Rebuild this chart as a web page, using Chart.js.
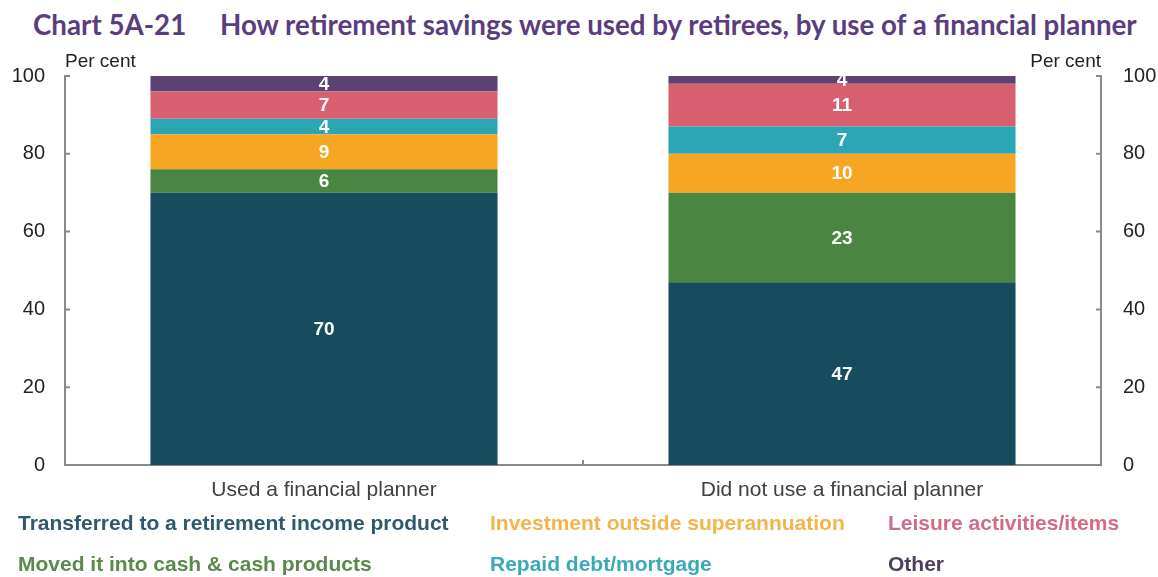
<!DOCTYPE html>
<html>
<head>
<meta charset="utf-8">
<script src="https://cdn.jsdelivr.net/npm/chart.js@4.4.0/dist/chart.umd.min.js"></script>
<style>
  body { margin: 0; background: #fff; width: 1158px; height: 577px; overflow: hidden; position: relative;
         font-family: "Liberation Sans", Arial, sans-serif; }
  .title { position: absolute; top: 8px; font-family: Lato, "Open Sans", sans-serif; font-weight: bold;
           color: #5a3d7d; font-size: 25px; white-space: nowrap; }
  #wrap { position: absolute; left: 0; top: 0; width: 1158px; height: 577px; }
  .leg { position: absolute; font-weight: bold; font-size: 21px; white-space: nowrap; }
</style>
</head>
<body>
<div class="title" id="t1" style="left:33px">Chart 5A-21</div>
<div class="title" id="t2" style="left:220px">How retirement savings were used by retirees, by use of a financial planner</div>
<div id="wrap"><canvas id="chart" width="1158" height="577"></canvas></div>
<div id="legend"></div>
<script>
const categories = ['Used a financial planner', 'Did not use a financial planner'];

const retirementProduct = [70, 47];
const cashProducts      = [6, 23];
const investmentOutside = [9, 10];
const repaidDebt        = [4, 7];
const leisureItems      = [7, 11];
const otherUses         = [4, 4];

const yTicks = [0, 20, 40, 60, 80, 100];

const seriesNames = [
  'Transferred to a retirement income product',
  'Moved it into cash & cash products',
  'Investment outside superannuation',
  'Repaid debt/mortgage',
  'Leisure activities/items',
  'Other'
];
const barColours  = ['#174b5e', '#4a8542', '#f6a623', '#2ba6b5', '#d85f6f', '#5c4173'];
const textColours = ['#2f5a6b', '#5a8a4a', '#f2b54c', '#3aaab8', '#d26b86', '#4d3d60'];

// size each title part to its span on the line
function fitWidth(el, target) {
  const w = el.getBoundingClientRect().width;
  el.style.fontSize = (25 * target / w) + 'px';
}
fitWidth(document.getElementById('t2'), 917);
document.getElementById('t1').style.fontSize = document.getElementById('t2').style.fontSize;

// legend: three columns, two rows, coloured text only
const legendSlots = [[18, 511], [18, 552], [490, 511], [490, 552], [888, 511], [888, 552]];
seriesNames.forEach((name, i) => {
  const d = document.createElement('div');
  d.className = 'leg';
  d.textContent = name;
  d.style.color = textColours[i];
  d.style.left = legendSlots[i][0] + 'px';
  d.style.top = legendSlots[i][1] + 'px';
  document.getElementById('legend').appendChild(d);
});

const seriesData = [retirementProduct, cashProducts, investmentOutside, repaidDebt, leisureItems, otherUses];

const axisGrey = '#8a8a8a';
const font = '"Liberation Sans", Arial, sans-serif';

const axisDecor = {
  id: 'axisDecor',
  afterDraw(chart) {
    const { ctx, chartArea: a } = chart;
    const y = chart.scales.y;
    ctx.save();
    ctx.strokeStyle = axisGrey;
    ctx.lineWidth = 2;
    yTicks.forEach(v => {
      const py = y.getPixelForValue(v);
      ctx.beginPath();
      ctx.moveTo(a.left, py); ctx.lineTo(a.left + 5, py);
      ctx.moveTo(a.right, py); ctx.lineTo(a.right - 5, py);
      ctx.stroke();
    });
    // divider tick between the two categories
    const mid = (a.left + a.right) / 2;
    ctx.beginPath();
    ctx.moveTo(mid, a.bottom); ctx.lineTo(mid, a.bottom - 5);
    ctx.stroke();

    ctx.fillStyle = '#222';
    ctx.font = '19px ' + font;
    ctx.textBaseline = 'alphabetic';
    ctx.textAlign = 'left';
    ctx.fillText('Per cent', a.left, a.top - 9);
    ctx.textAlign = 'right';
    ctx.fillText('Per cent', a.right, a.top - 9);
    ctx.restore();
  }
};

const segmentLabels = {
  id: 'segmentLabels',
  afterDatasetsDraw(chart) {
    const { ctx, chartArea: a } = chart;
    ctx.save();
    ctx.fillStyle = '#fff';
    ctx.font = 'bold 19px ' + font;
    ctx.textAlign = 'center';
    ctx.textBaseline = 'middle';
    chart.data.datasets.forEach((ds, di) => {
      chart.getDatasetMeta(di).data.forEach((bar, i) => {
        const top = Math.max(bar.y, a.top);
        const bottom = Math.min(bar.base, a.bottom);
        ctx.fillText(String(ds.data[i]), bar.x, (top + bottom) / 2 + 1);
      });
    });
    ctx.restore();
  }
};

new Chart(document.getElementById('chart'), {
  type: 'bar',
  data: {
    labels: categories,
    datasets: seriesData.map((d, i) => ({
      label: seriesNames[i],
      data: d,
      backgroundColor: barColours[i],
      borderWidth: 0,
      categoryPercentage: 1,
      barPercentage: 0.67
    }))
  },
  options: {
    responsive: false,
    animation: false,
    layout: { padding: { top: 76, left: 0, right: 0, bottom: 0 } },
    plugins: { legend: { display: false }, tooltip: { enabled: false } },
    scales: {
      x: {
        stacked: true,
        grid: { display: false, drawTicks: false },
        border: { display: true, color: axisGrey, width: 2 },
        ticks: { color: '#404040', padding: 13, font: { family: font, size: 21 } },
        afterFit(s) { s.height = 112; }
      },
      y: {
        stacked: true,
        position: 'left',
        min: 0, max: 100,
        grid: { display: false, drawTicks: false },
        border: { display: true, color: axisGrey, width: 2 },
        ticks: { stepSize: 20, color: '#222', padding: 20, font: { family: font, size: 20 } },
        afterFit(s) { s.width = 65; }
      },
      y2: {
        position: 'right',
        min: 0, max: 100,
        grid: { display: false, drawTicks: false },
        border: { display: true, color: axisGrey, width: 2 },
        ticks: { stepSize: 20, color: '#222', padding: 22, font: { family: font, size: 20 } },
        afterFit(s) { s.width = 57; }
      }
    }
  },
  plugins: [axisDecor, segmentLabels]
});
</script>
</body>
</html>
